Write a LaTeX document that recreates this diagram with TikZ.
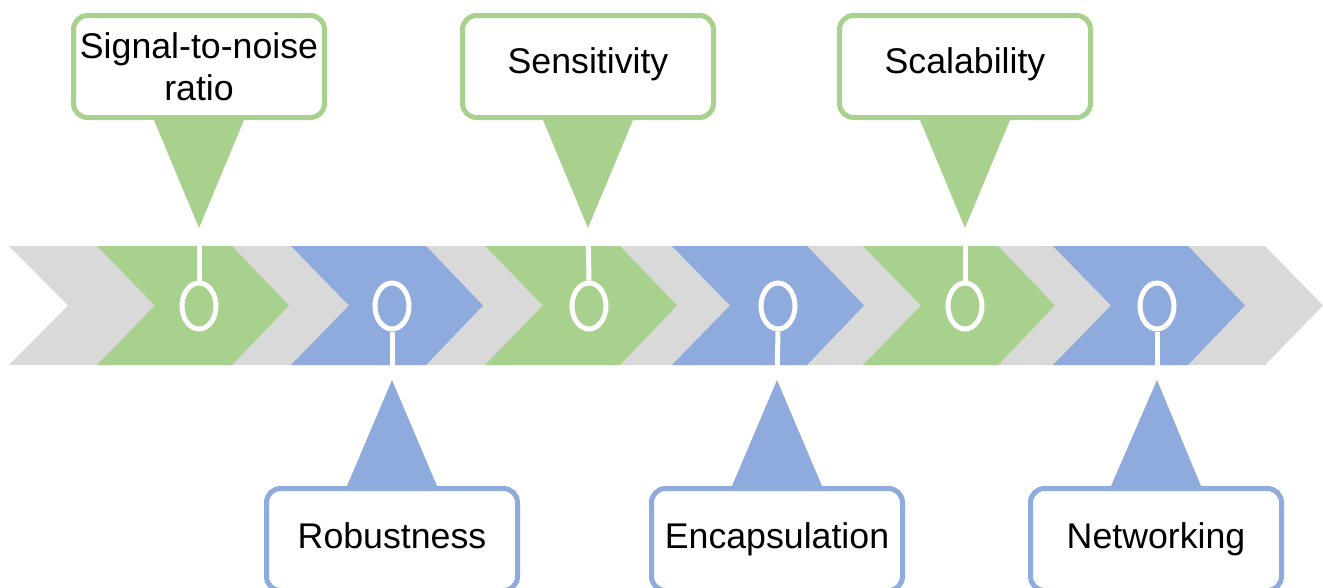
\documentclass[tikz,border=0pt]{standalone}
\usepackage{fontspec}
\setmainfont{Liberation Sans}
\usetikzlibrary{shapes.geometric}
\definecolor{cgreen}{HTML}{A9D18E}
\definecolor{cblue}{HTML}{8FAADC}
\definecolor{cgray}{HTML}{D9D9D9}
\pgfdeclarelayer{bg}
\pgfsetlayers{bg,main}
\newcommand\chevshape[2]{\fill[#2] (#1,246) -- ++(135,0) -- ++(57,59.5) -- ++(-57,59.5) -- ++(-135,0) -- ++(58,-59.5) -- cycle;}
\begin{document}
\begin{tikzpicture}[x=1pt,y=-1pt,
  ring/.style={ellipse, draw=white, line width=5pt, minimum width=34pt, minimum height=46pt, inner sep=0pt},
  stem/.style={draw=white, line width=5pt},
  card/.style={rectangle, rounded corners=14pt, line width=5pt, fill=white, minimum width=251pt, minimum height=102pt, inner sep=0pt, font=\fontsize{35.7}{42}\selectfont, text=black, anchor=base},
  upcard/.style={card, text height=26pt, text depth=13pt},
  lowcard/.style={card, text height=26pt, text depth=9pt},
]
\useasboundingbox (0,0) rectangle (1323,587);
% band
\fill[cgray] (9,246) -- (1265,246) -- (1323,305.5) -- (1265,365) -- (9,365) -- (68,305.5) -- cycle;
\chevshape{97}{cgreen}
\chevshape{291}{cblue}
\chevshape{485}{cgreen}
\chevshape{672}{cblue}
\chevshape{863}{cgreen}
\chevshape{1053}{cblue}
% apex coordinates
\coordinate (a1) at (199,228);
\coordinate (a2) at (392,380);
\coordinate (a3) at (588,228);
\coordinate (a4) at (777,380);
\coordinate (a5) at (965,228);
\coordinate (a6) at (1157,380);
% rings
\node[ring] (r1) at (199,306) {};
\node[ring] (r2) at (392,306) {};
\node[ring] (r3) at (589,306) {};
\node[ring] (r4) at (778,306) {};
\node[ring] (r5) at (965,306) {};
\node[ring] (r6) at (1157,306) {};
% stems
\draw[stem] (r1.north) -- (a1);
\draw[stem] (r2.south) -- (a2);
\draw[stem] (r3.north) -- (a3);
\draw[stem] (r4.south) -- (a4);
\draw[stem] (r5.north) -- (a5);
\draw[stem] (r6.south) -- (a6);
% cards
\node[card, draw=cgreen, text height=71.4pt, text depth=4.4pt] (b1) at (199,100) {\begin{tabular}[b]{@{}c@{}}Signal-to-noise\\ratio\end{tabular}};
\node[lowcard, draw=cblue] (b2) at (392,548) {Robustness};
\node[upcard, draw=cgreen] (b3) at (588,73) {Sensitivity};
\node[lowcard, draw=cblue] (b4) at (777,548) {Encapsulation};
\node[upcard, draw=cgreen] (b5) at (965,73) {Scalability};
\node[lowcard, draw=cblue] (b6) at (1156,548) {Networking};
% pointers
\begin{pgfonlayer}{bg}
\fill[cgreen] ([xshift=-45pt]b1.south) -- ([xshift=45pt]b1.south) -- (a1) -- cycle;
\fill[cblue] ([xshift=-45pt]b2.north) -- ([xshift=45pt]b2.north) -- (a2) -- cycle;
\fill[cgreen] ([xshift=-45pt]b3.south) -- ([xshift=45pt]b3.south) -- (a3) -- cycle;
\fill[cblue] ([xshift=-45pt]b4.north) -- ([xshift=45pt]b4.north) -- (a4) -- cycle;
\fill[cgreen] ([xshift=-45pt]b5.south) -- ([xshift=45pt]b5.south) -- (a5) -- cycle;
\fill[cblue] ([xshift=-45pt]b6.north) -- ([xshift=45pt]b6.north) -- (a6) -- cycle;
\end{pgfonlayer}
\end{tikzpicture}
\end{document}
